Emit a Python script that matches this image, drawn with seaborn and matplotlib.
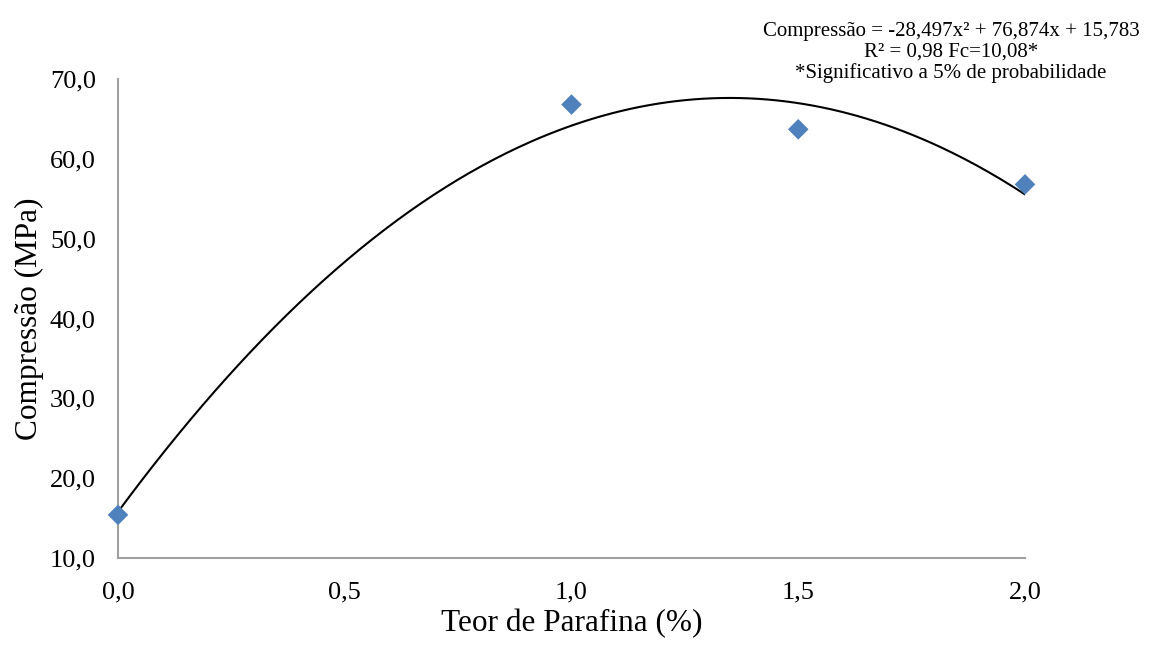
import numpy as np
import pandas as pd
import matplotlib
matplotlib.use("Agg")
import matplotlib.pyplot as plt
import seaborn as sns
from matplotlib.ticker import FuncFormatter

# Data
teor = [0.0, 1.0, 1.5, 2.0]
compressao = [15.4, 66.8, 63.7, 56.8]
coef = [-28.497, 76.874, 15.783]  # a, b, c of the trend line
x_ticks = [0.0, 0.5, 1.0, 1.5, 2.0]
y_ticks = [10, 20, 30, 40, 50, 60, 70]

sns.set_theme(style="white")
plt.rcParams['font.family'] = ['Liberation Serif', 'DejaVu Serif']

fig = plt.figure(figsize=(11.5, 6.46), dpi=100)
ax = fig.add_axes([0.1026, 0.1362, 0.7887, 0.7415])

xs = np.linspace(0, 2, 300)
ys = coef[0] * xs**2 + coef[1] * xs + coef[2]
sns.lineplot(x=xs, y=ys, ax=ax, color="black", linewidth=1.5, zorder=2)
sns.scatterplot(x=teor, y=compressao, ax=ax, marker="D", s=110,
                color="#4F81BD", edgecolor="none", zorder=3, clip_on=False)

ax.set_xlim(0, 2)
ax.set_ylim(10, 70)
ax.set_xticks(x_ticks)
ax.set_yticks(y_ticks)
ax.xaxis.set_major_formatter(FuncFormatter(lambda v, p: f"{v:.1f}".replace(".", ",")))
ax.yaxis.set_major_formatter(FuncFormatter(lambda v, p: f"{v:.1f}".replace(".", ",")))
ax.tick_params(axis="both", length=0, labelsize=19, colors="black")
ax.tick_params(axis="y", pad=16)
ax.tick_params(axis="x", pad=17)

for s in ["top", "right"]:
    ax.spines[s].set_visible(False)
for s in ["left", "bottom"]:
    ax.spines[s].set_color("#A0A0A0")
    ax.spines[s].set_linewidth(1.5)

ax.set_xlabel("Teor de Parafina (%)", fontsize=22.5, color="black", labelpad=4)
ax.set_ylabel("Compressão (MPa)", fontsize=22.5, color="black", labelpad=4)

fig.text(0.827, 0.966,
         "Compressão = -28,497x² + 76,874x + 15,783\nR² = 0,98 Fc=10,08*\n*Significativo a 5% de probabilidade",
         ha="center", va="top", fontsize=15, linespacing=1.1, color="black")

fig.savefig("out.png", dpi=100, facecolor="white")
